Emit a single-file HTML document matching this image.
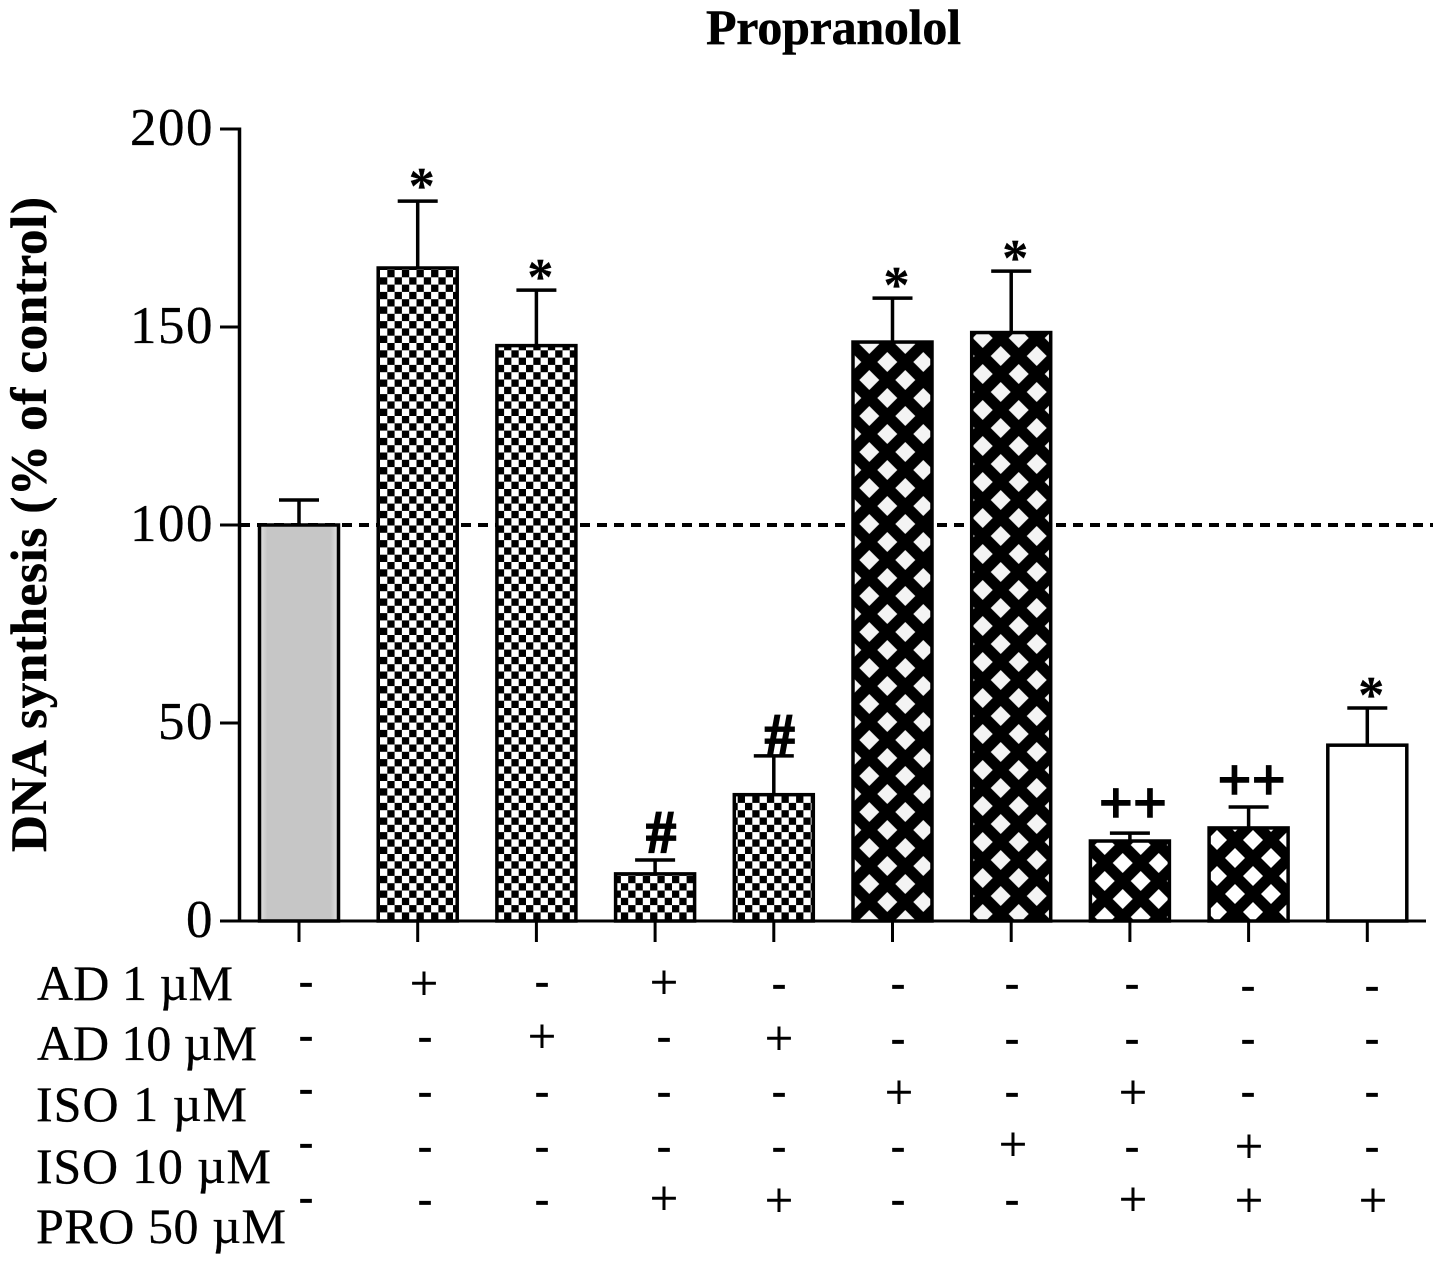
<!DOCTYPE html>
<html lang="en">
<head>
<meta charset="utf-8">
<title>Propranolol DNA synthesis chart</title>
<style>
  html, body { margin: 0; padding: 0; background: #fff; }
  svg { display: block; }
  text { font-family: "Liberation Serif", serif; fill: #000; }
  .tick-label { font-size: 53px; text-anchor: end; letter-spacing: 1.5px; stroke: #000; stroke-width: 0.3px; }
  .row-label { font-size: 50px; stroke: #000; stroke-width: 0.3px; }
  .mark { font-size: 42px; text-anchor: middle; stroke: #000; stroke-width: 0.8px; }
  .plus { font-size: 50px; stroke-width: 0.5px; }
</style>
</head>
<body>
<svg id="chart" xmlns="http://www.w3.org/2000/svg" width="1441" height="1266" viewBox="0 0 1441 1266">
  <defs>
    <linearGradient id="gray-fill" x1="0" x2="1" y1="0" y2="0">
      <stop offset="0" stop-color="#e2e2e2"/>
      <stop offset="0.1" stop-color="#c6c6c6"/>
      <stop offset="0.9" stop-color="#c6c6c6"/>
      <stop offset="1" stop-color="#e2e2e2"/>
    </linearGradient>
    <pattern id="checker" patternUnits="userSpaceOnUse" x="380" y="270" width="14.6" height="14.6">
      <rect width="14.6" height="14.6" fill="#fff"/>
      <rect x="7.3" width="7.3" height="7.3" fill="#000"/>
      <rect y="7.3" width="7.3" height="7.3" fill="#000"/>
    </pattern>
    <pattern id="diamond-6" patternUnits="userSpaceOnUse" x="869.3" y="380" width="36" height="36">
      <rect width="36" height="36" fill="#000"/>
      <path d="M-10 0L0-10L10 0L0 10ZM26 0L36-10L46 0L36 10ZM-10 36L0 26L10 36L0 46ZM26 36L36 26L46 36L36 46ZM8 18L18 8L28 18L18 28Z" fill="#f4f4f4"/>
    </pattern>
    <pattern id="diamond-7" patternUnits="userSpaceOnUse" x="982.7" y="338" width="36" height="36">
      <rect width="36" height="36" fill="#000"/>
      <path d="M-10 0L0-10L10 0L0 10ZM26 0L36-10L46 0L36 10ZM-10 36L0 26L10 36L0 46ZM26 36L36 26L46 36L36 46ZM8 18L18 8L28 18L18 28Z" fill="#f4f4f4"/>
    </pattern>
    <pattern id="diamond-8" patternUnits="userSpaceOnUse" x="1122.7" y="863" width="36" height="36">
      <rect width="36" height="36" fill="#000"/>
      <path d="M-10 0L0-10L10 0L0 10ZM26 0L36-10L46 0L36 10ZM-10 36L0 26L10 36L0 46ZM26 36L36 26L46 36L36 46ZM8 18L18 8L28 18L18 28Z" fill="#fff"/>
    </pattern>
    <pattern id="diamond-9" patternUnits="userSpaceOnUse" x="1235" y="858" width="36" height="36">
      <rect width="36" height="36" fill="#000"/>
      <path d="M-10 0L0-10L10 0L0 10ZM26 0L36-10L46 0L36 10ZM-10 36L0 26L10 36L0 46ZM26 36L36 26L46 36L36 46ZM8 18L18 8L28 18L18 28Z" fill="#fff"/>
    </pattern>
  </defs>

  <text x="833.5" y="44" font-size="50" font-weight="bold" stroke="#000" stroke-width="0.5" text-anchor="middle" textLength="255" lengthAdjust="spacing">Propranolol</text>
  <text transform="translate(46 524.5) rotate(-90)" font-size="51" font-weight="bold" stroke="#000" stroke-width="0.5" text-anchor="middle" textLength="655" lengthAdjust="spacing">DNA synthesis (% of control)</text>

  <g id="reference-layer"></g>
  <g id="bars-layer"></g>
  <g id="axis-layer"></g>

  <g>
    <text class="row-label" x="37" y="1000" textLength="196" lengthAdjust="spacing">AD 1 µM</text>
    <text class="row-label" x="37" y="1060" textLength="220" lengthAdjust="spacing">AD 10 µM</text>
    <text class="row-label" x="36" y="1121" textLength="211" lengthAdjust="spacing">ISO 1 µM</text>
    <text class="row-label" x="36" y="1183" textLength="235" lengthAdjust="spacing">ISO 10 µM</text>
    <text class="row-label" x="36" y="1243" textLength="250" lengthAdjust="spacing">PRO 50 µM</text>
  </g>

  <g>
    <text class="mark" x="306" y="995">-</text>
    <text class="mark" x="306" y="1049">-</text>
    <text class="mark" x="306" y="1102">-</text>
    <text class="mark" x="306" y="1156">-</text>
    <text class="mark" x="306" y="1211">-</text>

    <text class="mark plus" x="424" y="1000">+</text>
    <text class="mark" x="425" y="1050">-</text>
    <text class="mark" x="425" y="1105">-</text>
    <text class="mark" x="425" y="1160">-</text>
    <text class="mark" x="425" y="1213">-</text>

    <text class="mark" x="542" y="995">-</text>
    <text class="mark plus" x="542" y="1053">+</text>
    <text class="mark" x="542" y="1105">-</text>
    <text class="mark" x="542" y="1160">-</text>
    <text class="mark" x="542" y="1213">-</text>

    <text class="mark plus" x="664" y="999">+</text>
    <text class="mark" x="664" y="1050">-</text>
    <text class="mark" x="664" y="1105">-</text>
    <text class="mark" x="664" y="1160">-</text>
    <text class="mark plus" x="664" y="1215">+</text>

    <text class="mark" x="779" y="997">-</text>
    <text class="mark plus" x="779" y="1055">+</text>
    <text class="mark" x="779" y="1105">-</text>
    <text class="mark" x="779" y="1160">-</text>
    <text class="mark plus" x="779" y="1217">+</text>

    <text class="mark" x="898" y="997">-</text>
    <text class="mark" x="898" y="1052">-</text>
    <text class="mark plus" x="899" y="1109">+</text>
    <text class="mark" x="898" y="1160">-</text>
    <text class="mark" x="898" y="1213">-</text>

    <text class="mark" x="1012" y="997">-</text>
    <text class="mark" x="1012" y="1052">-</text>
    <text class="mark" x="1012" y="1105">-</text>
    <text class="mark plus" x="1013" y="1161">+</text>
    <text class="mark" x="1012" y="1213">-</text>

    <text class="mark" x="1132" y="997">-</text>
    <text class="mark" x="1132" y="1052">-</text>
    <text class="mark plus" x="1133" y="1109">+</text>
    <text class="mark" x="1132" y="1160">-</text>
    <text class="mark plus" x="1133" y="1216">+</text>

    <text class="mark" x="1248" y="999">-</text>
    <text class="mark" x="1248" y="1052">-</text>
    <text class="mark" x="1248" y="1105">-</text>
    <text class="mark plus" x="1249" y="1163">+</text>
    <text class="mark plus" x="1249" y="1217">+</text>

    <text class="mark" x="1372" y="999">-</text>
    <text class="mark" x="1372" y="1052">-</text>
    <text class="mark" x="1372" y="1105">-</text>
    <text class="mark" x="1372" y="1160">-</text>
    <text class="mark plus" x="1373" y="1217">+</text>
  </g>
</svg>

<script>
const categories = ["control", "ad-1", "ad-10", "ad-1-pro", "ad-10-pro", "iso-1", "iso-10", "iso-1-pro", "iso-10-pro", "pro"];
const values = [100, 164.9, 145.3, 11.9, 31.9, 146.2, 148.6, 20.2, 23.5, 44.4];
const errorTops = [106.3, 181.8, 159.3, 15.4, 41.7, 157.3, 164.1, 22.2, 28.8, 53.8];
const annotations = ["", "*", "*", "#", "#", "*", "*", "++", "++", "*"];
const fills = ["url(#gray-fill)", "url(#checker)", "url(#checker)", "url(#checker)", "url(#checker)", "url(#diamond-6)", "url(#diamond-7)", "url(#diamond-8)", "url(#diamond-9)", "#fff"];
const yTicks = [0, 50, 100, 150, 200];
const referenceValue = 100;

const NS = "http://www.w3.org/2000/svg";
const yScale = function (v) { return 921 - v * 3.96; };
const xScale = function (i) { return 299 + i * 118.7; };
const barWidth = 79;

function make(parent, tag, attrs, text) {
  const el = document.createElementNS(NS, tag);
  Object.keys(attrs).forEach(function (k) { el.setAttribute(k, attrs[k]); });
  if (text !== undefined) el.textContent = text;
  parent.appendChild(el);
  return el;
}

const refLayer = document.getElementById("reference-layer");
const barsLayer = document.getElementById("bars-layer");
const axisLayer = document.getElementById("axis-layer");

const refLine = make(refLayer, "line", {
  x1: 240, x2: 1433, y1: yScale(referenceValue), y2: yScale(referenceValue),
  stroke: "#000", "stroke-width": 4, "stroke-dasharray": "10 7"
});



categories.forEach(function (cat, i) {
  const cx = xScale(i);
  const top = yScale(values[i]);
  const errY = yScale(errorTops[i]);

  const stem = make(barsLayer, "line", { x1: cx, x2: cx, y1: top, y2: errY, stroke: "#000", "stroke-width": 3.5 });
  
  

  const cap = make(barsLayer, "line", { x1: cx - 20, x2: cx + 20, y1: errY, y2: errY, stroke: "#000", "stroke-width": 3.5 });
  
  

  const bar = make(barsLayer, "rect", {
    x: cx - barWidth / 2, y: top, width: barWidth, height: yScale(0) - top,
    fill: fills[i], stroke: "#000", "stroke-width": 3.5
  });
  
  

  const note = annotations[i];
  if (note) {
    let lift = 0;
    let size = 52;
    let shift = 4;
    let weight = 0.3;
    if (note === "*") { lift = i === 1 ? -2 : -4; }
    if (note === "#") { lift = i === 3 ? 8 : 1; size = 60; shift = 6; weight = 1.8; }
    if (note === "++") { lift = i === 7 ? 10 : 7; size = 60; shift = 3; weight = 1.5; }
    const label = make(barsLayer, "text", {
      x: cx + shift, y: errY - lift, "font-size": size, "font-weight": "bold", "text-anchor": "middle",
      stroke: "#000", "stroke-width": weight
    }, note);
    
    
  }

  const tick = make(axisLayer, "line", { x1: cx, x2: cx, y1: yScale(0), y2: yScale(0) + 21, stroke: "#000", "stroke-width": 3 });
  
  
});

const yAxis = make(axisLayer, "line", { x1: 239.5, x2: 239.5, y1: yScale(200) - 1.5, y2: yScale(0) + 1.5, stroke: "#000", "stroke-width": 3.5 });



const xAxis = make(axisLayer, "line", { x1: 220, x2: 1426, y1: yScale(0), y2: yScale(0), stroke: "#000", "stroke-width": 3 });



yTicks.forEach(function (t) {
  const y = yScale(t);
  const tick = make(axisLayer, "line", { x1: 220, x2: 240, y1: y, y2: y, stroke: "#000", "stroke-width": 3 });
  
  

  const label = make(axisLayer, "text", { class: "tick-label", x: 214, y: y + 16 }, String(t));
  
  
});
</script>
</body>
</html>
